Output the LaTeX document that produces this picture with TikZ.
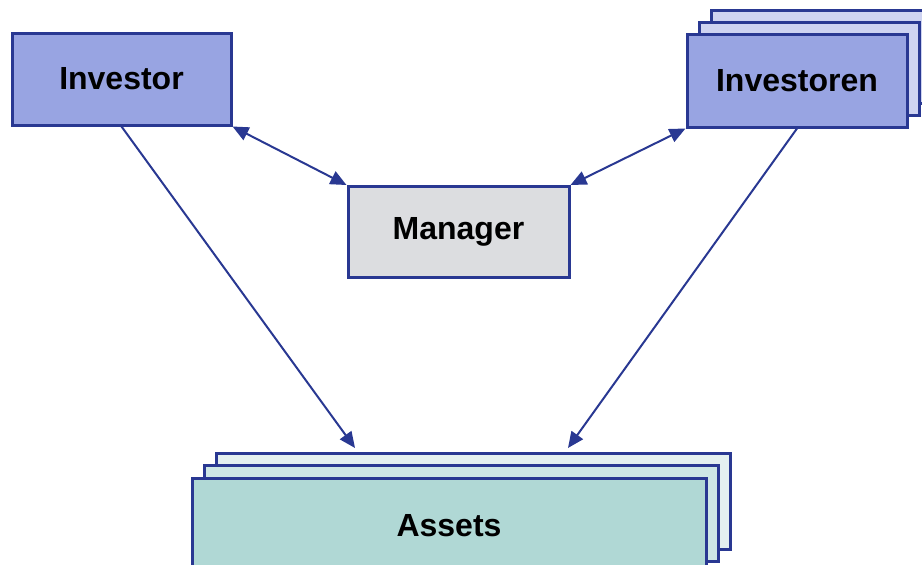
\documentclass[tikz,border=0pt]{standalone}
\usepackage{fontspec}
\setmainfont{Liberation Sans}
\usetikzlibrary{arrows.meta}
\definecolor{edgeblue}{RGB}{41,56,146}
\definecolor{invfill}{RGB}{152,164,226}
\definecolor{invback}{RGB}{206,211,241}
\definecolor{mgrfill}{RGB}{220,221,224}
\definecolor{astfill}{RGB}{176,216,213}
\definecolor{astmid}{RGB}{206,231,229}
\definecolor{astback}{RGB}{228,240,240}
\begin{document}
\begin{tikzpicture}[x=1pt, y=-1pt,
  >={Triangle[length=16pt,width=14pt]},
  box/.style={draw=edgeblue, line width=3pt, inner sep=0pt,
    font=\fontsize{32}{36}\selectfont\bfseries},
  link/.style={draw=edgeblue, line width=2pt, ->}]
\useasboundingbox (0,0) rectangle (922,565);
% stacked investors, back to front
\node[box, fill=invback, minimum width=220pt, minimum height=93pt] (invsB) at (821,56.5) {};
\node[box, fill=invback, minimum width=220pt, minimum height=93pt] (invsM) at (809,68.5) {};
\node[box, fill=invfill, minimum width=220pt, minimum height=93pt] (invs) at (797,80.5) {Investoren};
% single investor and manager
\node[box, fill=invfill, minimum width=219pt, minimum height=92pt] (inv) at (121.5,79) {Investor};
\node[box, fill=mgrfill, minimum width=221pt, minimum height=91pt] (mgr) at (458.5,232) {Manager};
% stacked assets
\node[box, fill=astback, minimum width=514pt, minimum height=96pt] (astB) at (473,501) {};
\node[box, fill=astmid, minimum width=514pt, minimum height=96pt] (astM) at (461,513.5) {};
\node[box, fill=astfill, minimum width=514pt, minimum height=96pt] (ast) at (449,526) {Assets};
\coordinate (astL) at (355,448);
\coordinate (astR) at (568,448);
\begin{scope}[link]
\draw[<->] (inv.south east) -- (mgr.north west);
\draw[<->] (invs.south west) -- (mgr.north east);
\draw (inv.south) -- (astL);
\draw (invs.south) -- (astR);
\end{scope}
\end{tikzpicture}
\end{document}
